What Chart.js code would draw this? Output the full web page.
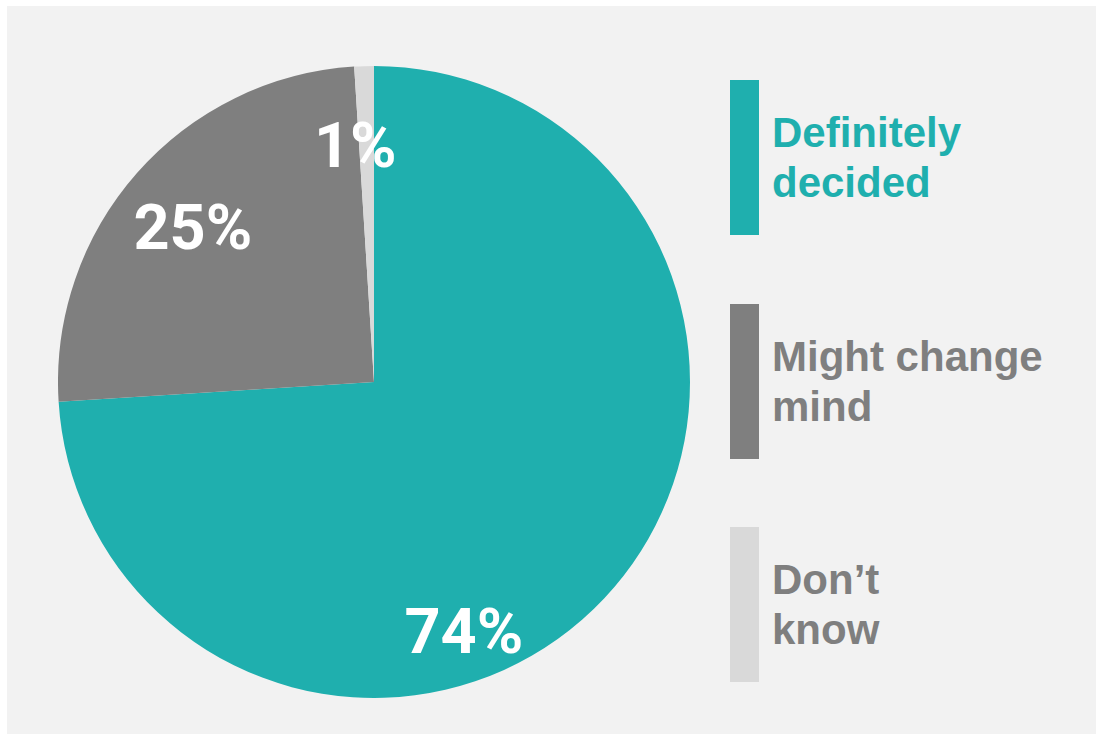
<!DOCTYPE html>
<html>
<head>
<meta charset="utf-8">
<script src="https://cdn.jsdelivr.net/npm/chart.js@4"></script>
<style>
  body { margin: 0; background: #ffffff; width: 1096px; height: 734px; overflow: hidden; position: relative; }
  #panel { position: absolute; left: 7px; top: 6px; width: 1089px; height: 728px; background: #f2f2f2; }
  #pieBox { position: absolute; left: 58px; top: 66px; width: 632px; height: 632px; }
  .item { position: absolute; left: 730px; display: flex; align-items: center; height: 155px; }
  .bar { width: 29px; height: 155px; }
  .txt { margin-left: 13px; font-family: "Liberation Sans", Arial, sans-serif; font-weight: bold; font-size: 42px; line-height: 50px; }
</style>
</head>
<body>
<div id="panel"></div>
<div id="pieBox"><canvas id="myChart" width="632" height="632"></canvas></div>
<div id="legend"></div>
<script>
window.onload = function(){

    // data
    const labels = ['Definitely decided', 'Might change mind', 'Don\u2019t know'];
    const legendLines = [['Definitely', 'decided'], ['Might change', 'mind'], ['Don\u2019t', 'know']];
    const shares = [74, 25, 1];
    const colors = ['#1fafae', '#7f7f7f', '#d9d9d9'];
    const textColors = ['#1fafae', '#7f7f7f', '#7f7f7f'];

    // legend on the right, built from the arrays
    const legendTops = [80, 304, 527];
    const legend = document.getElementById('legend');
    labels.forEach(function(l, i){
        const item = document.createElement('div');
        item.className = 'item';
        item.style.top = legendTops[i] + 'px';
        item.innerHTML = '<div class="bar" style="background:' + colors[i] + '"></div>' +
            '<div class="txt" style="color:' + textColors[i] + '">' + legendLines[i].join('<br>') + '</div>';
        legend.appendChild(item);
    });

    // where each percent label sits: angle from top (clockwise, degrees) and fraction of radius
    const labelSpots = [{a: 160.1, r: 0.835}, {a: 310.7, r: 0.756}, {a: 355.5, r: 0.753}];

    const pctLabels = {
        id: 'pctLabels',
        afterDatasetsDraw(chart) {
            const c = chart.ctx;
            const meta = chart.getDatasetMeta(0);
            c.save();
            c.fillStyle = '#ffffff';
            c.font = 'bold 63px Roboto';
            c.textAlign = 'center';
            c.textBaseline = 'alphabetic';
            meta.data.forEach(function(arc, i){
                const s = labelSpots[i];
                const ang = (s.a - 90) * Math.PI / 180;
                const x = arc.x + Math.cos(ang) * arc.outerRadius * s.r;
                const y = arc.y + Math.sin(ang) * arc.outerRadius * s.r;
                c.fillText(chart.data.datasets[0].data[i] + '%', x, y + 0.711 * 63 / 2);
            });
            c.restore();
        }
    };

    const myChart = new Chart(document.getElementById('myChart'), {
        type: 'pie',
        data: {
            labels: labels,
            datasets: [{
                data: shares,
                backgroundColor: colors,
                borderWidth: 0
            }]
        },
        options: {
            responsive: false,
            animation: false,
            devicePixelRatio: 1,
            layout: { padding: 0 },
            plugins: {
                legend: { display: false },
                tooltip: { enabled: false }
            }
        },
        plugins: [pctLabels]
    });
};
</script>
</body>
</html>
